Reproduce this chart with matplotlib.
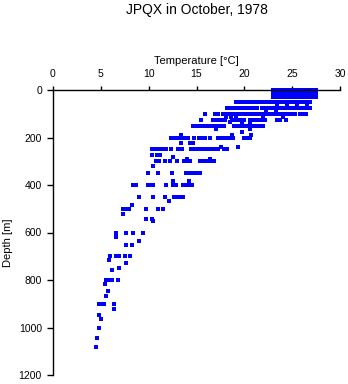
import matplotlib
matplotlib.use("Agg")
import matplotlib.pyplot as plt

plt.rcParams['font.family'] = ['Liberation Sans', 'DejaVu Sans']

title = "JPQX in October, 1978"
xlabel = "Temperature [\u00b0C]"
ylabel = "Depth [m]"
xticks = [0, 5, 10, 15, 20, 25, 30]
yticks = [0, 200, 400, 600, 800, 1000, 1200]

# sampling depths [m]
depths = [0, 5, 10, 15, 20, 25, 30, 50, 60, 75, 90, 100, 112, 125, 135, 150, 165,
          178, 190, 200, 222, 238, 250, 272, 280, 290, 300, 318, 350, 383, 400,
          452, 466, 485, 500, 522, 545, 552, 600, 620, 637, 651, 700, 717, 730,
          751, 759, 800, 818, 848, 869, 900, 920, 949, 966, 1000, 1046, 1084]

# temperatures [deg C] observed at each depth
temps = [
    [23.0, 23.3, 23.6, 23.9, 24.2, 24.5, 24.8, 25.1, 25.4, 25.7, 26.0, 26.3, 26.6, 26.9, 27.2, 27.5],
    [23.1, 23.4, 23.7, 24.0, 24.3, 24.6, 24.9, 25.2, 25.5, 25.8, 26.1, 26.4, 26.7, 27.0, 27.3, 27.5],
    [23.0, 23.3, 23.6, 23.9, 24.2, 24.5, 24.8, 25.1, 25.4, 25.7, 26.0, 26.3, 26.6, 26.9, 27.2, 27.5],
    [23.1, 23.4, 23.7, 24.0, 24.3, 24.6, 24.9, 25.2, 25.5, 25.8, 26.1, 26.4, 26.7, 27.0, 27.3, 27.5],
    [23.0, 23.3, 23.6, 23.9, 24.2, 24.5, 24.8, 25.1, 25.4, 25.7, 26.0, 26.3, 26.6, 26.9, 27.2, 27.5],
    [23.1, 23.4, 23.7, 24.0, 24.3, 24.6, 24.9, 25.2, 25.5, 25.8, 26.1, 26.4, 26.7, 27.0, 27.3, 27.5],
    [23.0, 23.3, 23.6, 23.9, 24.2, 24.5, 24.8, 25.1, 25.4, 25.7, 26.0, 26.3, 26.6, 26.9, 27.2, 27.5],
    [19.1, 19.4, 19.9, 20.2, 20.5, 20.8, 21.1, 21.4, 21.7, 22.0, 22.3, 22.6, 22.9, 23.2, 23.5, 23.8,
     24.1, 24.4, 24.7, 25.0, 25.3, 25.6, 25.9, 26.2, 26.5, 26.9],
    [23.4, 24.5, 25.5, 26.6],
    [18.2, 18.5, 18.8, 19.1, 19.4, 19.7, 20.0, 20.3, 20.6, 21.0, 21.3, 21.8, 22.1, 22.4, 22.7,
     23.0, 23.3, 23.6, 23.9, 24.2, 24.5, 24.8, 25.1, 25.4, 25.7, 26.0, 26.3, 26.6, 26.9],
    [22.3, 23.3],
    [15.9, 16.9, 17.2, 17.8, 18.2, 18.5, 18.8, 19.1, 19.4, 19.7, 20.0, 20.3, 20.6, 21.0, 21.4,
     21.7, 22.0, 22.3, 22.6, 22.9, 23.2, 23.5, 23.8, 24.1, 24.4, 24.7, 25.1, 25.3, 25.8, 26.1, 26.4],
    [18.1, 18.6, 19.1, 22.0, 24.0],
    [15.5, 16.7, 17.0, 17.4, 17.7, 18.0, 18.7, 19.1, 19.4, 19.7, 20.0, 20.6, 20.9,
     21.2, 21.5, 21.8, 22.2, 23.4, 23.7, 24.4],
    [18.5, 19.8, 20.6],
    [14.6, 15.0, 15.5, 15.8, 16.1, 16.4, 16.7, 17.0, 17.3, 17.6, 17.9, 18.9, 19.2, 19.5, 19.8,
     20.1, 20.4, 20.7, 21.0, 21.3, 21.6, 22.0],
    [17.0, 20.6],
    [19.8],
    [13.4, 18.7, 20.7],
    [12.3, 12.6, 12.9, 13.2, 13.5, 13.8, 14.1, 14.7, 15.3, 15.6, 15.9, 16.4,
     17.2, 17.6, 17.9, 18.2, 18.5, 18.8, 20.0, 20.3, 20.6],
    [13.4, 14.3, 14.6],
    [17.6, 19.3],
    [10.3, 10.6, 10.9, 11.2, 11.5, 11.8, 12.3, 13.1, 13.5, 14.4, 14.8, 15.3, 15.7, 16.0, 16.3,
     16.5, 16.9, 17.2, 17.9, 18.2],
    [10.4, 10.9, 11.2],
    [12.5],
    [14.0, 16.4],
    [10.8, 11.1, 11.7, 12.2, 13.0, 13.7, 14.0, 14.3, 15.4, 15.7, 16.0, 16.3, 16.6, 16.8],
    [10.5],
    [9.9, 11.0, 12.4, 13.9, 14.2, 14.5, 14.8, 15.1, 15.4],
    [12.5, 14.2],
    [8.4, 8.7, 9.9, 10.2, 10.5, 11.8, 12.5, 12.9, 13.6, 13.9, 14.2, 14.5],
    [9.0, 10.5, 11.7, 12.6, 12.9, 13.3, 13.6],
    [12.1],
    [8.3],
    [7.3, 7.6, 7.9, 9.7, 11.0, 11.5],
    [7.3],
    [9.7, 10.3],
    [10.5],
    [6.6, 7.6, 8.4, 9.4],
    [6.6],
    [9.0],
    [7.6, 8.3],
    [6.0, 6.6, 6.9, 7.5, 8.0],
    [5.9],
    [7.6],
    [6.9],
    [6.2],
    [5.5, 5.8, 6.0, 6.2, 6.8],
    [5.4],
    [5.7],
    [5.5],
    [4.8, 5.1, 5.3, 6.4],
    [6.4],
    [4.8],
    [5.0],
    [4.8],
    [4.6],
    [4.5],
]

xs, ys = [], []
for d, tl in zip(depths, temps):
    for t in tl:
        xs.append(t)
        ys.append(d)

fig = plt.figure(figsize=(3.48, 3.84), dpi=100)
ax = fig.add_axes([53/348, 1 - 375/384, 287/348, 285/384])

ax.plot(xs, ys, linestyle='none', marker='s', markersize=2.4,
        markeredgewidth=0, color='#0000ff', clip_on=False, antialiased=False)

ax.set_xlim(0, 30)
ax.set_ylim(1200, 0)
ax.set_xticks(xticks)
ax.set_yticks(yticks)
ax.xaxis.tick_top()
ax.xaxis.set_label_position('top')
for s in ['right', 'bottom']:
    ax.spines[s].set_visible(False)
for s in ['left', 'top']:
    ax.spines[s].set_linewidth(1.0)
    ax.spines[s].set_color('black')
ax.tick_params(axis='x', direction='out', length=3.2, width=1, labelsize=7.5, pad=5)
ax.tick_params(axis='y', direction='out', length=4, width=1, labelsize=7.5, pad=4)
ax.set_xlabel(xlabel, fontsize=8, labelpad=3)
ax.set_ylabel(ylabel, fontsize=8)
ax.yaxis.set_label_coords((13 - 53) / 287, 1 - (243 - 90) / 285)

fig.text(196.5/348, 1 - 10/384, title, ha='center', va='center', fontsize=10)

fig.savefig('out.png', dpi=100)
